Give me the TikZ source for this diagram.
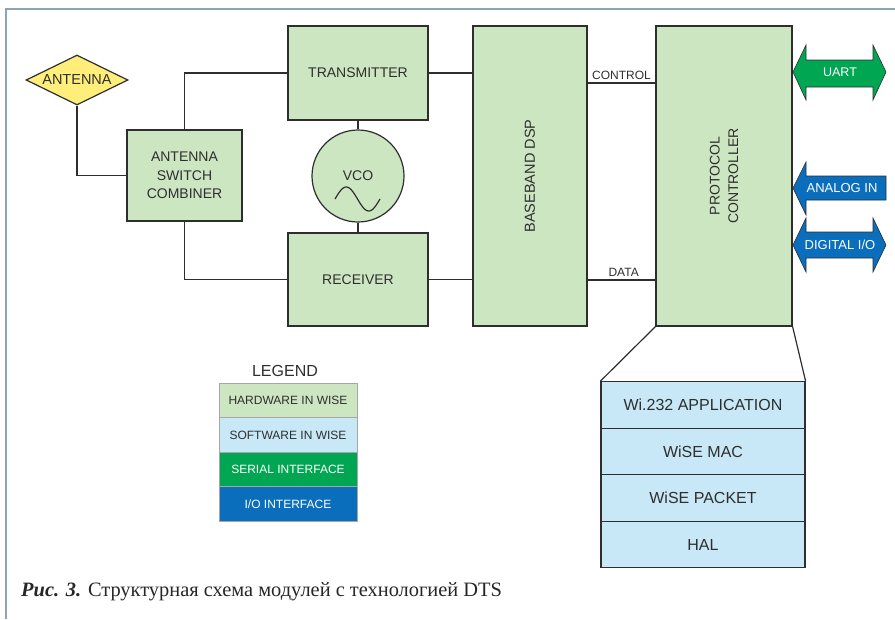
\documentclass[tikz,border=0pt]{standalone}
\usepackage{fontspec}
\setmainfont{Liberation Sans}
\newfontfamily\capfont{Liberation Serif}
\usetikzlibrary{shapes.geometric}
\definecolor{hw}{HTML}{CDE6C2}
\definecolor{sw}{HTML}{C8E8F8}
\definecolor{ser}{HTML}{00A651}
\definecolor{io}{HTML}{0A6EBD}
\definecolor{antc}{HTML}{FFEF7A}
\definecolor{ln}{HTML}{2E2E2E}
\definecolor{frm}{HTML}{8CA5B8}
\begin{document}
\begin{tikzpicture}[x=1pt,y=-1pt,
  fs/.style={font=\fontsize{#1}{18.5}\selectfont},
  blk/.style={draw=ln, line width=1.2pt, fill=hw, rectangle, inner sep=0pt, align=center, text=ln, fs=14},
  wire/.style={draw=ln, line width=1.2pt},
  stk/.style={draw=ln, line width=1.2pt, fill=sw, rectangle, inner sep=0pt, minimum width=204pt, minimum height=46.5pt, text=ln, fs=16},
  leg/.style={draw=gray!70, line width=1pt, rectangle, inner sep=0pt, minimum width=138pt, minimum height=34.5pt, fs=12},
  arr/.style={draw=ln, line width=0.6pt},
  arrtxt/.style={text=white, inner sep=0pt}
]
\useasboundingbox (0,0) rectangle (895,619);
% frame
\draw[frm, line width=2pt] (6,619) -- (6,9) -- (895,9);

% blocks
\node[shape=diamond, aspect=2.2, draw=ln, line width=1.2pt, fill=antc, minimum width=102pt, minimum height=50pt, inner sep=0pt, text=ln, fs=14.5] (ant) at (77,80) {ANTENNA};
\node[blk, minimum width=115pt, minimum height=91pt] (comb) at (184.5,175.5) {ANTENNA\\SWITCH\\COMBINER};
\node[blk, minimum width=140pt, minimum height=94pt] (tx) at (358,73) {TRANSMITTER};
\node[blk, minimum width=140pt, minimum height=93pt] (rx) at (358,279.5) {RECEIVER};
\node[blk, shape=circle, minimum size=92pt] (vco) at (358,176) {};
\node[text=ln, fs=14, inner sep=0pt] (vcot) at (358,176) {VCO};
\draw[ln, line width=1.2pt] plot[domain=0:360, samples=50] ({335+\x/8}, {199-12*sin(\x)});
\node[blk, minimum width=114pt, minimum height=300pt] (dsp) at (530,176) {};
\node[rotate=90, text=ln, fs=14.5, inner sep=0pt] (dspt) at (dsp) {BASEBAND DSP};
\node[blk, minimum width=136pt, minimum height=300pt] (pc) at (724,176) {};
\node[rotate=90, text=ln, align=center, inner sep=0pt, fs=14] (pct) at (pc) {PROTOCOL\\CONTROLLER};

% connectors
\draw[wire] (ant.south) |- (comb.west);
\draw[wire] (comb.north) |- (tx.west);
\draw[wire] (comb.south) |- (rx.west);
\draw[wire] (tx.south) -- (vco.north);
\draw[wire] (vco.south) -- (rx.north);
\draw[wire] (tx.east) -- (dsp.west |- tx.east);
\draw[wire] (rx.east) -- (dsp.west |- rx.east);
\coordinate (cy) at (0,83);
\coordinate (dy) at (0,280);
\draw[wire] (dsp.east |- cy) -- (pc.west |- cy) node[pos=1, anchor=south east, xshift=-3pt, yshift=2pt, text=ln, fs=12, inner sep=1pt] (ctl) {CONTROL};
\draw[wire] (dsp.east |- dy) -- (pc.west |- dy) node[pos=1, anchor=south east, xshift=-15pt, yshift=2pt, text=ln, fs=12, inner sep=1pt] (dat) {DATA};

% interface arrows
\filldraw[arr, fill=ser] (793,72) -- (806,45) -- (806,60) -- (873,60) -- (873,45) -- (886,72) -- (873,100) -- (873,87) -- (806,87) -- (806,100) -- cycle;
\node[arrtxt, fs=12.5] (uart) at (840,72) {UART};
\filldraw[arr, fill=io] (793,188) -- (806,162) -- (806,176) -- (886,176) -- (886,200) -- (806,200) -- (806,215) -- cycle;
\node[arrtxt, fs=13] (ain) at (842,188) {ANALOG IN};
\filldraw[arr, fill=io] (793,245) -- (806,218) -- (806,232) -- (873,232) -- (873,218) -- (886,245) -- (873,272) -- (873,258) -- (806,258) -- (806,272) -- cycle;
\node[arrtxt, fs=13] (dio) at (840,245) {DIGITAL I/O};

% software stack
\node[stk] (s1) at (703,405) {Wi.232 APPLICATION};
\node[stk] (s2) at (703,451.5) {WiSE MAC};
\node[stk] (s3) at (703,498) {WiSE PACKET};
\node[stk] (s4) at (703,544.5) {HAL};
\draw[wire] (pc.south west) -- (s1.north west);
\draw[wire] (pc.south east) -- (s1.north east);

% legend
\node[text=ln, fs=16, inner sep=0pt] (legt) at (285,371) {LEGEND};
\node[leg, fill=hw, text=ln] (l1) at (288,400.5) {HARDWARE IN WISE};
\node[leg, fill=sw, text=ln] (l2) at (288,435) {SOFTWARE IN WISE};
\node[leg, fill=ser, text=white] (l3) at (288,469.5) {SERIAL INTERFACE};
\node[leg, fill=io, text=white] (l4) at (288,504) {I/O INTERFACE};

% caption
\node[anchor=base west, inner sep=0pt, text=black!85, font=\capfont\fontsize{20.4}{22}\selectfont] (cap) at (21,596) {\textbf{\textit{Рис. 3.}} Структурная схема модулей с технологией DTS};
\end{tikzpicture}
\end{document}
